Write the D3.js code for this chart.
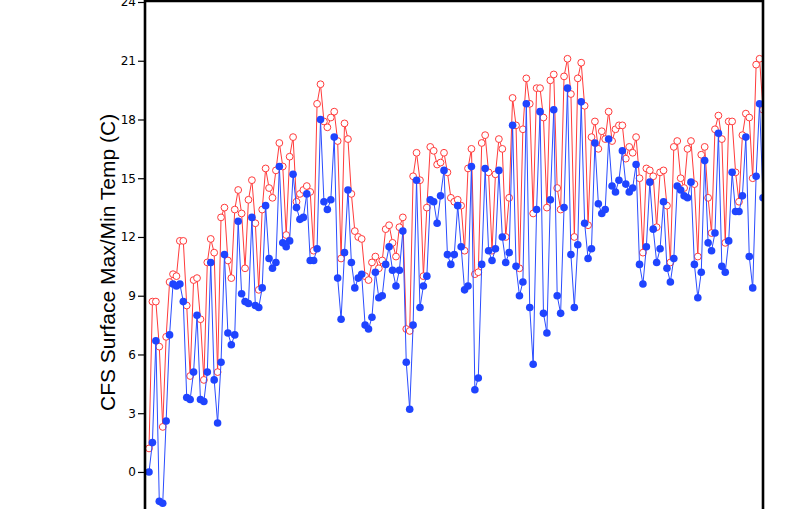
<!DOCTYPE html>
<html>
<head>
<meta charset="utf-8">
<script src="https://cdn.jsdelivr.net/npm/d3@7"></script>
<style>
  body { margin: 0; background: #fff; }
  svg { display: block; }
  .tick text { font-family: "DejaVu Sans", sans-serif; font-size: 12px; fill: #000; }
</style>
</head>
<body>
<div id="chart"></div>
<script>
// 6-hourly CFS surface max / min temperature (C)
var maxTemp = [
  1.2, 8.7, 8.7, 6.4, 2.3, 6.9, 9.7, 10.1, 10.0, 11.8, 11.8, 8.5, 4.9, 9.8, 9.9, 7.8, 4.7, 10.7, 11.9, 11.2,
  5.1, 13.0, 13.5, 10.8, 9.9, 13.4, 14.4, 13.2, 10.4, 13.9, 14.9, 12.7, 9.3, 13.4, 15.5, 14.5, 14.0, 15.4, 16.8, 15.6,
  12.1, 16.1, 17.1, 13.8, 14.2, 14.4, 14.6, 14.3, 11.3, 18.8, 19.8, 17.9, 17.6, 18.1, 18.4, 16.9, 10.9, 17.8, 17.0, 14.2,
  12.3, 12.0, 11.9, 10.0, 9.8, 10.7, 11.0, 10.4, 10.8, 12.4, 12.6, 11.7, 11.0, 12.5, 13.0, 7.3, 7.2, 15.1, 16.3, 14.9,
  10.0, 13.5, 16.6, 16.4, 15.7, 15.8, 16.3, 15.3, 14.0, 13.8, 13.9, 13.6, 11.3, 15.5, 16.5, 10.1, 10.2, 16.8, 17.2, 15.3,
  11.3, 15.2, 17.0, 16.5, 12.0, 14.0, 19.1, 17.7, 10.4, 17.5, 20.1, 18.8, 13.2, 19.6, 19.6, 18.1, 13.5, 20.0, 20.3, 14.5,
  13.4, 20.2, 21.1, 19.3, 12.0, 20.1, 20.9, 18.7, 12.6, 17.1, 17.9, 16.5, 17.4, 17.0, 18.4, 16.9, 17.5, 17.7, 17.7, 16.0,
  16.6, 16.3, 17.1, 15.0, 11.2, 15.5, 15.4, 15.1, 12.5, 15.3, 15.4, 13.6, 10.7, 16.6, 16.9, 15.0, 14.5, 16.5, 16.9, 14.7,
  11.0, 16.2, 16.6, 14.0, 12.2, 17.5, 18.2, 17.0, 11.7, 17.9, 17.9, 15.3, 13.8, 17.2, 18.3, 18.1, 15.0, 20.8, 21.1, 18.5
];

var minTemp = [
  0.0, 1.5, 6.7, -1.5, -1.6, 2.6, 7.0, 9.6, 9.5, 9.6, 8.7, 3.8, 3.7, 5.1, 8.0, 3.7, 3.6, 5.1, 10.7, 4.7,
  2.5, 5.6, 11.1, 7.1, 6.5, 7.0, 12.8, 9.1, 8.7, 8.6, 13.0, 8.5, 8.4, 9.4, 13.6, 10.9, 10.4, 10.7, 15.6, 11.7,
  11.5, 11.8, 15.2, 13.5, 12.9, 13.0, 14.2, 10.8, 10.8, 11.4, 18.0, 13.8, 13.4, 13.9, 17.1, 9.9, 7.8, 11.2, 14.4, 10.7,
  9.4, 9.9, 10.1, 7.5, 7.3, 7.9, 10.2, 8.9, 9.0, 10.6, 11.5, 10.3, 9.5, 10.3, 12.3, 5.6, 3.2, 7.5, 14.9, 8.4,
  9.5, 10.0, 13.9, 13.8, 12.7, 14.1, 15.4, 11.1, 10.6, 11.1, 13.6, 11.5, 9.3, 9.5, 15.6, 4.2, 4.8, 10.6, 15.5, 11.3,
  10.8, 11.4, 15.4, 12.0, 10.7, 11.2, 17.7, 10.5, 9.0, 9.7, 18.8, 8.4, 5.5, 13.4, 18.4, 8.1, 7.1, 13.9, 18.5, 9.0,
  8.1, 13.5, 19.6, 11.1, 8.4, 11.6, 18.9, 12.7, 10.9, 11.4, 16.8, 13.7, 13.2, 13.4, 17.0, 14.6, 14.3, 14.9, 16.4, 14.7,
  14.3, 14.5, 15.7, 10.6, 9.6, 11.5, 14.8, 12.4, 10.7, 11.4, 13.8, 10.4, 9.7, 10.9, 14.6, 14.4, 14.1, 14.0, 14.8, 10.6,
  8.9, 10.2, 15.9, 11.7, 11.3, 12.2, 17.3, 10.5, 10.2, 11.8, 15.3, 13.3, 13.3, 14.1, 17.1, 11.0, 9.4, 15.1, 18.8, 14.0
];

var yTicks = [0, 3, 6, 9, 12, 15, 18, 21, 24];
var yTitle = "CFS Surface Max/Min Temp (C)";

var width = 800,
    height = 509,
    plotLeft = 145,
    plotRight = 763,
    plotTop = 1;

var svg = d3.select("#chart")
    .append("svg")
    .attr("width", width)
    .attr("height", height);

svg.append("rect")
    .attr("width", width)
    .attr("height", height)
    .attr("fill", "#fff");

var x = d3.scaleLinear()
    .domain([0, minTemp.length - 1])
    .range([plotLeft + 4, plotRight]);

// plot runs below the picture edge, only down to about -1.9 is visible
var y = d3.scaleLinear()
    .domain([-3, 24])
    .range([plotTop + 529.7, plotTop + 1]);

svg.append("clipPath")
    .attr("id", "plot")
  .append("rect")
    .attr("x", plotLeft)
    .attr("y", plotTop)
    .attr("width", plotRight - plotLeft)
    .attr("height", height);

var plot = svg.append("g").attr("clip-path", "url(#plot)");

var line = d3.line()
    .x(function(d, i){ return x(i); })
    .y(function(d){ return y(d); });

// max series: red line, open circles
plot.append("path")
    .datum(maxTemp)
    .attr("fill", "none")
    .attr("stroke", "#ff3b3b")
    .attr("stroke-width", 1)
    .attr("d", line);

plot.selectAll(".maxdot")
    .data(maxTemp)
    .enter().append("circle")
    .attr("class", "maxdot")
    .attr("cx", function(d, i){ return x(i); })
    .attr("cy", function(d){ return y(d); })
    .attr("r", 3.4)
    .attr("fill", "#fff")
    .attr("stroke", "#ff3b3b")
    .attr("stroke-width", 1);

// min series: blue line, filled dots
plot.append("path")
    .datum(minTemp)
    .attr("fill", "none")
    .attr("stroke", "#2a4cff")
    .attr("stroke-width", 1)
    .attr("d", line);

plot.selectAll(".mindot")
    .data(minTemp)
    .enter().append("circle")
    .attr("class", "mindot")
    .attr("cx", function(d, i){ return x(i); })
    .attr("cy", function(d){ return y(d); })
    .attr("r", 3.8)
    .attr("fill", "#1f44ff");

// frame
svg.append("path")
    .attr("d", "M" + plotLeft + "," + (height + 5) + "V" + plotTop + "H" + plotRight + "V" + (height + 5))
    .attr("fill", "none")
    .attr("stroke", "#000")
    .attr("stroke-width", 2.6);

var yAxis = svg.append("g")
    .attr("transform", "translate(" + (plotLeft - 1) + ",0)")
    .call(d3.axisLeft(y).tickValues(yTicks).tickSize(6).tickPadding(2));

yAxis.select(".domain").remove();
yAxis.selectAll(".tick line").attr("stroke", "#000").attr("stroke-width", 1.2);

svg.append("text")
    .attr("transform", "translate(115," + y(10.7) + ") rotate(-90)")
    .attr("text-anchor", "middle")
    .attr("font-family", "Liberation Sans, Arial, sans-serif")
    .attr("font-size", 21)
    .attr("fill", "#000")
    .text(yTitle);
</script>
</body>
</html>
